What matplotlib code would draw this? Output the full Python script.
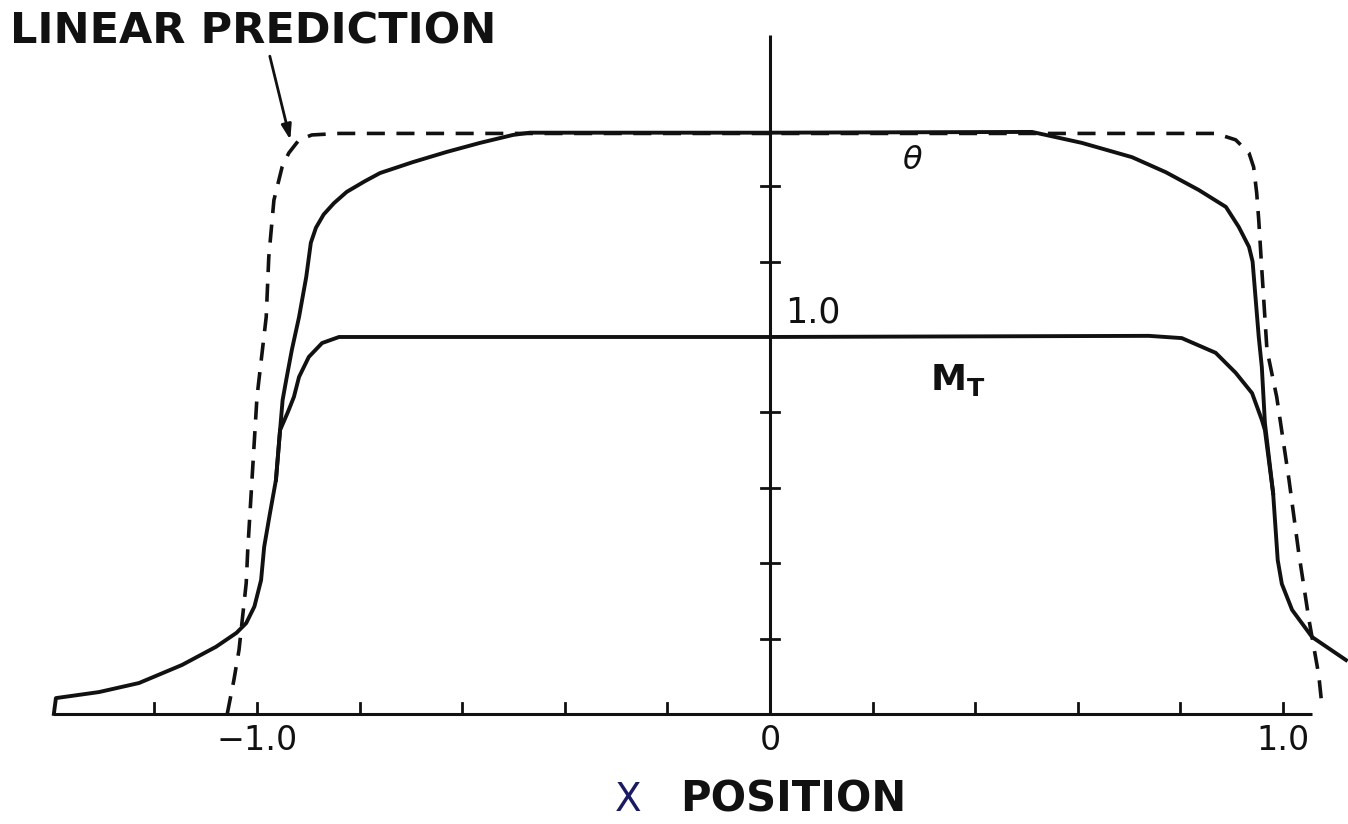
import matplotlib
matplotlib.use("Agg")
import matplotlib.pyplot as plt

plt.rcParams['font.family'] = ['DejaVu Sans']
plt.rcParams['mathtext.fontset'] = 'dejavusans'

# Temperature profile theta across the channel
theta_x = [-1.396, -1.392, -1.308, -1.230, -1.146, -1.080, -1.040, -1.021, -1.005,
           -0.992, -0.986, -0.975, -0.963, -0.955, -0.950, -0.943, -0.932, -0.918,
           -0.904, -0.895, -0.885, -0.870, -0.850, -0.825, -0.790, -0.760, -0.696,
           -0.630, -0.565, -0.501, -0.468, 0.0, 0.511, 0.608, 0.706, 0.772, 0.836,
           0.889, 0.914, 0.934, 0.941, 0.947, 0.953, 0.959, 0.965, 0.981, 0.990,
           0.998, 1.018, 1.057, 1.123]
theta_y = [0.0, 0.042, 0.058, 0.082, 0.130, 0.178, 0.215, 0.241, 0.285,
           0.355, 0.443, 0.530, 0.621, 0.753, 0.833, 0.886, 0.966, 1.053,
           1.159, 1.250, 1.290, 1.325, 1.355, 1.385, 1.413, 1.435, 1.464,
           1.491, 1.515, 1.536, 1.542, 1.542, 1.544, 1.515, 1.477, 1.437, 1.390,
           1.345, 1.292, 1.239, 1.200, 1.100, 1.000, 0.920, 0.772, 0.586, 0.408,
           0.345, 0.276, 0.204, 0.143]

# Mach number profile M_T
mach_x = [-0.963, -0.955, -0.940, -0.928, -0.918, -0.899, -0.873, -0.840, 0.0,
          0.739, 0.803, 0.869, 0.908, 0.940, 0.959, 0.965, 0.981]
mach_y = [0.621, 0.753, 0.800, 0.841, 0.894, 0.947, 0.984, 1.000, 1.000,
          1.003, 0.997, 0.958, 0.905, 0.851, 0.780, 0.753, 0.586]

# Linear prediction (dashed)
lin_x = [-1.058, -1.045, -1.035, -1.021, -1.018, -1.000, -0.982, -0.977, -0.967,
         -0.951, -0.938, -0.918, -0.893, -0.840, 0.869, 0.908, 0.934, 0.943,
         0.949, 0.953, 0.959, 0.969, 0.988, 1.012, 1.031, 1.051, 1.070, 1.076]
lin_y = [0.0, 0.09, 0.17, 0.347, 0.435, 0.841, 1.053, 1.212, 1.363,
         1.451, 1.488, 1.523, 1.536, 1.540, 1.540, 1.523, 1.488, 1.451,
         1.382, 1.310, 1.178, 0.966, 0.841, 0.621, 0.427, 0.249, 0.103, 0.024]

x_ticks = [-1.2, -1.0, -0.8, -0.6, -0.4, -0.2, 0.2, 0.4, 0.6, 0.8, 1.0]
y_ticks = [0.2, 0.4, 0.6, 0.8, 1.2, 1.4]
x_tick_labels = {-1.0: "\u22121.0", 0.0: "0", 1.0: "1.0"}

fig = plt.figure(figsize=(13.48, 8.24), dpi=100)
ax = fig.add_axes([0, 0, 1, 1])
ax.set_xlim(-1.501, 1.127)
ax.set_ylim(-0.292, 1.894)
ax.axis('off')

ink = '#111111'
# axes drawn by hand
ax.plot([-1.396, 1.057], [0, 0], color=ink, lw=2.2, solid_capstyle='butt')
ax.plot([0, 0], [0, 1.80], color=ink, lw=2.2, solid_capstyle='butt')
for t in x_ticks:
    ax.plot([t, t], [0, 0.028], color=ink, lw=2.0)
for t in y_ticks:
    ax.plot([-0.018, 0.018], [t, t], color=ink, lw=2.0)

ax.plot(theta_x, theta_y, color=ink, lw=2.8, solid_joinstyle='round')
ax.plot(mach_x, mach_y, color=ink, lw=2.8, solid_joinstyle='round')
ax.plot(lin_x, lin_y, color=ink, lw=2.6, dashes=(5, 3.2), dash_capstyle='butt')

for v, s in x_tick_labels.items():
    ax.text(v, -0.07, s, ha='center', va='center', fontsize=24, color=ink)

ax.text(0.029, 1.066, "1.0", ha='left', va='center', fontsize=25, color=ink)
ax.text(0.277, 1.469, r"$\theta$", ha='center', va='center', fontsize=23, color=ink)
ax.text(0.312, 0.886, r"$\mathbf{M}_{\mathbf{T}}$", ha='left', va='center',
        fontsize=26, color=ink)

ax.text(-1.481, 1.778, "LINEAR PREDICTION", ha='left', va='baseline',
        fontsize=31, fontweight='bold', color=ink)
ax.annotate("", xy=(-0.935, 1.523), xytext=(-0.975, 1.745),
            arrowprops=dict(arrowstyle='-|>,head_length=0.9,head_width=0.3',
                            color=ink, lw=2.0, shrinkA=0, shrinkB=0))

ax.text(-0.277, -0.228, "X", ha='center', va='center', fontsize=28,
        color='#1b1b63')
ax.text(-0.175, -0.228, "POSITION", ha='left', va='center', fontsize=30,
        fontweight='bold', color=ink)

fig.savefig("out.png", dpi=100)
